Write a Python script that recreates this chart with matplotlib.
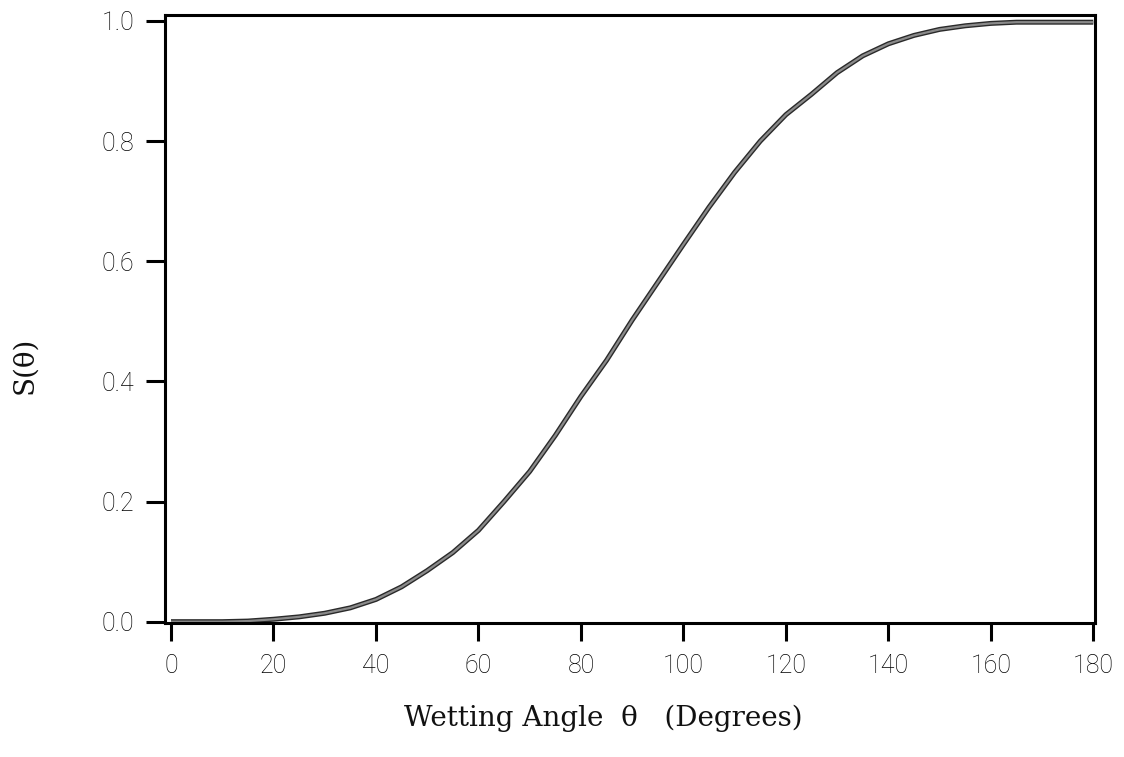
import matplotlib
matplotlib.use("Agg")
import matplotlib.pyplot as plt
from matplotlib import patheffects

# S(theta) sampled every 5 degrees of wetting angle
theta = [0, 5, 10, 15, 20, 25, 30, 35, 40, 45, 50, 55, 60, 65, 70, 75, 80, 85, 90,
         95, 100, 105, 110, 115, 120, 125, 130, 135, 140, 145, 150, 155, 160, 165,
         170, 175, 180]
s_theta = [0.000, 0.000, 0.000, 0.001, 0.004, 0.008, 0.014, 0.023, 0.037, 0.058,
           0.085, 0.115, 0.152, 0.200, 0.250, 0.310, 0.375, 0.435, 0.502, 0.565,
           0.628, 0.690, 0.748, 0.800, 0.844, 0.878, 0.914, 0.942, 0.962, 0.976,
           0.986, 0.992, 0.996, 0.998, 0.998, 0.998, 0.998]

x_ticks = [0, 20, 40, 60, 80, 100, 120, 140, 160, 180]
y_ticks = [0.0, 0.2, 0.4, 0.6, 0.8, 1.0]

fig = plt.figure(figsize=(11.24, 7.57), dpi=100)
ax = fig.add_axes([0.1468, 0.1764, 0.8274, 0.8038])

# gray curve with dark edges
ax.plot(theta, s_theta, color="#8a8a8a", lw=1.6, solid_capstyle="butt",
        path_effects=[patheffects.Stroke(linewidth=3.6, foreground="#2a2a2a"),
                      patheffects.Normal()])

ax.set_xlim(-1.17, 180.33)
ax.set_ylim(-0.003, 1.01)

tick_font = dict(family=["Roboto", "DejaVu Sans"], weight="light", size=18)
ax.set_xticks(x_ticks)
ax.set_xticklabels([str(v) for v in x_ticks], **tick_font)
ax.set_yticks(y_ticks)
ax.set_yticklabels([f"{v:.1f}" for v in y_ticks], **tick_font)

for sp in ax.spines.values():
    sp.set_linewidth(2.2)
    sp.set_color("black")

ax.tick_params(axis="x", direction="out", length=13, width=2.2, pad=9, colors="black",
               labelcolor="black")
ax.tick_params(axis="y", direction="out", length=14, width=2.2, pad=8, colors="black",
               labelcolor="black")

label_font = dict(family=["DejaVu Serif"], size=20, color="#111111")
fig.text(603 / 1124, 1 - 718 / 757, "Wetting Angle  \u03b8   (Degrees)",
         ha="center", va="center", **label_font)
fig.text(25 / 1124, 1 - 365 / 757, "S(\u03b8)", rotation=90,
         ha="center", va="center", **label_font)

fig.savefig("out.png", dpi=100, facecolor="white")
